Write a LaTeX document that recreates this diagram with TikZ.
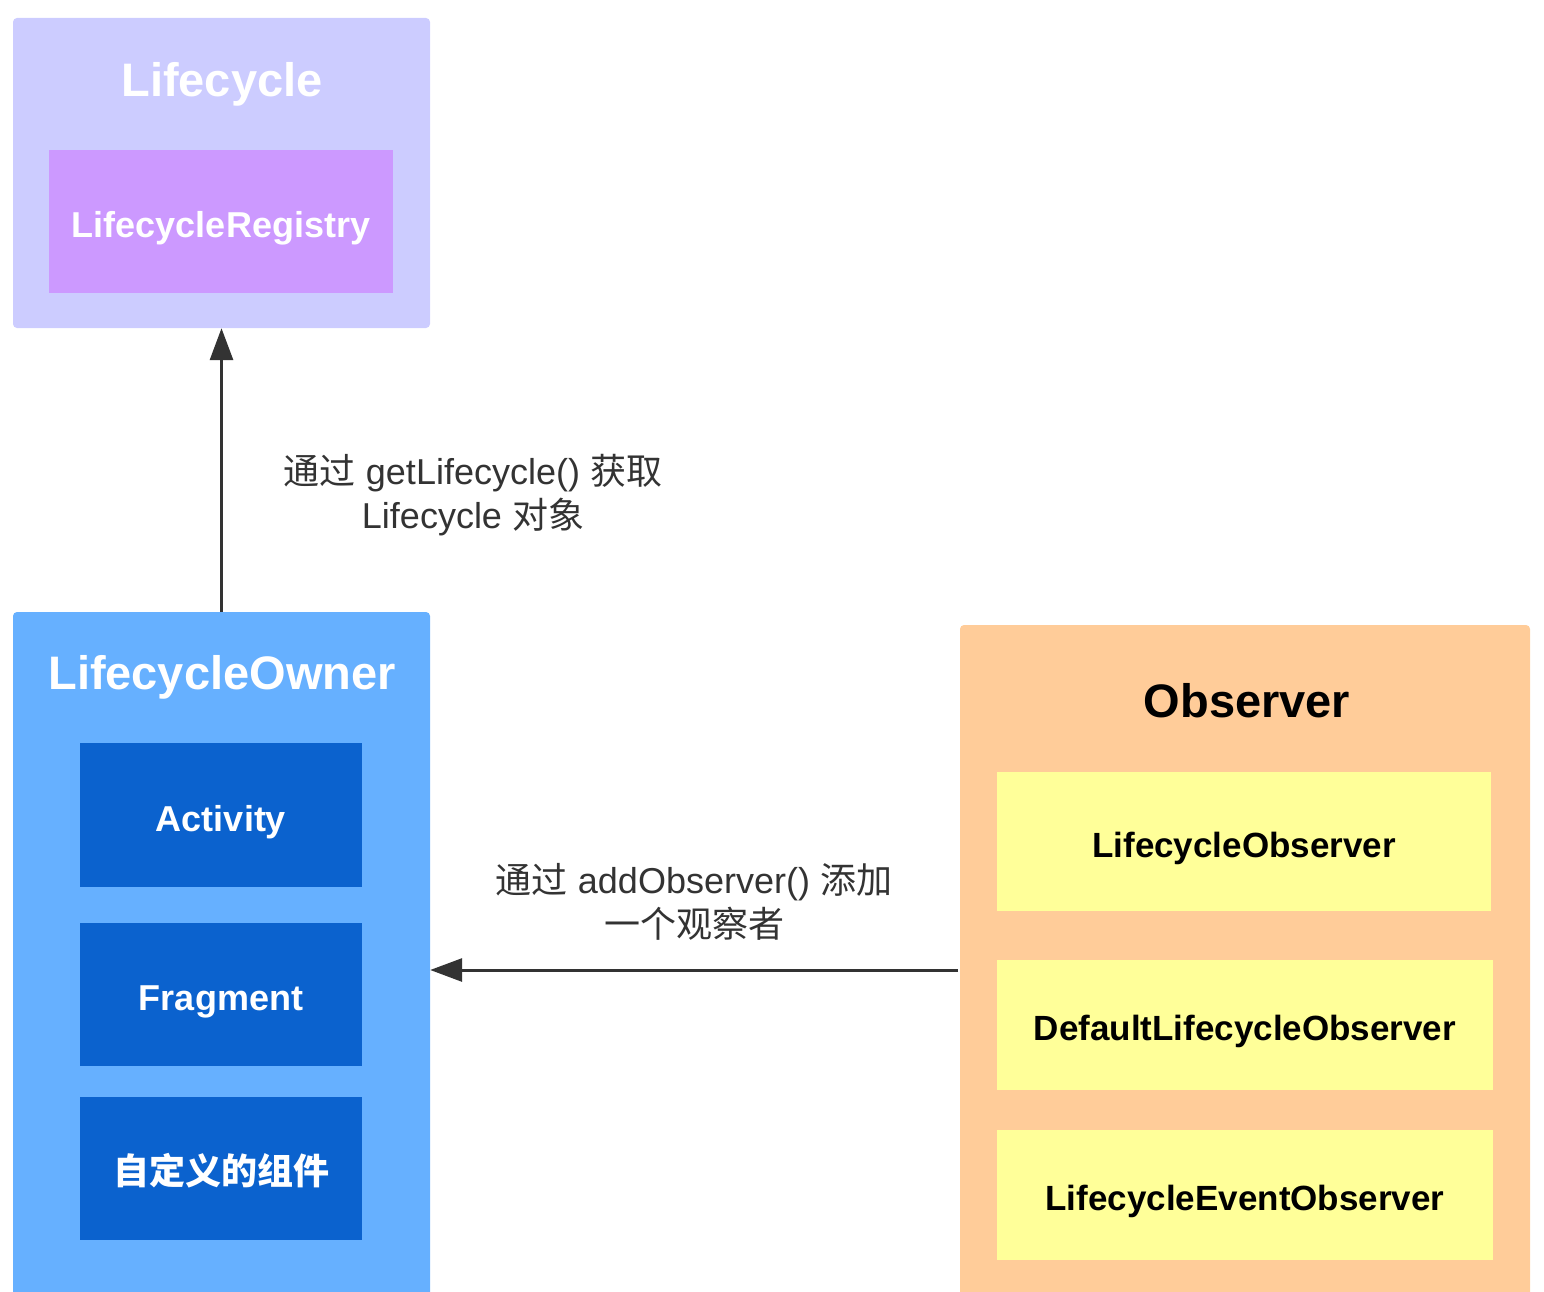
\documentclass[tikz,border=0pt]{standalone}
\usepackage{fontspec}
\setmainfont{Liberation Sans}
\newfontfamily\cjk{Noto Sans CJK SC}
\usetikzlibrary{arrows.meta}
\definecolor{lcbg}{HTML}{CCCCFF}
\definecolor{regbg}{HTML}{CC99FF}
\definecolor{ownbg}{HTML}{66B0FF}
\definecolor{compbg}{HTML}{0B62CE}
\definecolor{obsbg}{HTML}{FFCC99}
\definecolor{obsin}{HTML}{FFFF99}
\definecolor{txtgray}{HTML}{333333}
\begin{document}
\begin{tikzpicture}[x=1pt,y=-1pt,
  group/.style={rectangle, rounded corners=4pt, draw=none, inner sep=0pt},
  part/.style={rectangle, draw=none, inner sep=0pt},
  title/.style={inner sep=0pt, font=\bfseries\fontsize{47}{56}\selectfont},
  whitetxt/.style={text=white, text height=32pt, text depth=0pt, font=\bfseries\fontsize{36}{43}\selectfont},
  blacktxt/.style={text=black, text height=31pt, text depth=0pt, font=\bfseries\fontsize{35}{42}\selectfont},
  lbl/.style={align=center, text=txtgray, inner sep=0pt, font=\fontsize{36}{44}\selectfont},
  arr/.style={draw=txtgray, line width=3pt, -{Triangle[length=32pt,width=23pt]}}
]
\useasboundingbox (0,0) rectangle (1544,1292);
\clip (0,0) rectangle (1544,1292);

% Lifecycle
\node[group, fill=lcbg, minimum width=417pt, minimum height=310pt] (lc) at (221.5,173) {};
\node[title, text=white, anchor=base] (lctitle) at (222,97) {Lifecycle};
\node[part, fill=regbg, minimum width=344pt, minimum height=143pt, whitetxt] (reg) at (221,221.5) {LifecycleRegistry};

% LifecycleOwner
\node[group, fill=ownbg, minimum width=417pt, minimum height=698pt] (owner) at (221.5,961) {};
\node[title, text=white, anchor=base] (ownertitle) at (222,689) {LifecycleOwner};
\node[part, fill=compbg, minimum width=282pt, minimum height=144pt, whitetxt] (act) at (221,815) {Activity};
\node[part, fill=compbg, minimum width=282pt, minimum height=143pt, whitetxt] (frag) at (221,994.5) {Fragment};
\node[part, fill=compbg, minimum width=282pt, minimum height=143pt, whitetxt] (cust) at (221,1168.5) {\cjk\bfseries 自定义的组件};

% Observer
\node[group, fill=obsbg, minimum width=570pt, minimum height=685pt] (obs) at (1245,967.5) {};
\node[title, text=black, anchor=base] (obstitle) at (1247,717) {Observer};
\node[part, fill=obsin, minimum width=494pt, minimum height=139pt, blacktxt] (lo) at (1244,841.5) {LifecycleObserver};
\node[part, fill=obsin, minimum width=496pt, minimum height=130pt, blacktxt] (dlo) at (1245,1025) {DefaultLifecycleObserver};
\node[part, fill=obsin, minimum width=496pt, minimum height=130pt, blacktxt] (leo) at (1245,1195) {LifecycleEventObserver};

% connectors
\draw[arr] (owner.north) -- (lc.south);
\coordinate (obsin) at (958,970);
\draw[arr] (obsin) -- (obsin -| owner.east);

% labels
\node[lbl] (l1) at (473,495) {{\cjk 通过} getLifecycle() {\cjk 获取}\\Lifecycle {\cjk 对象}};
\node[lbl] (l2) at (694,902) {{\cjk 通过} addObserver() {\cjk 添加}\\{\cjk 一个观察者}};
\end{tikzpicture}
\end{document}
